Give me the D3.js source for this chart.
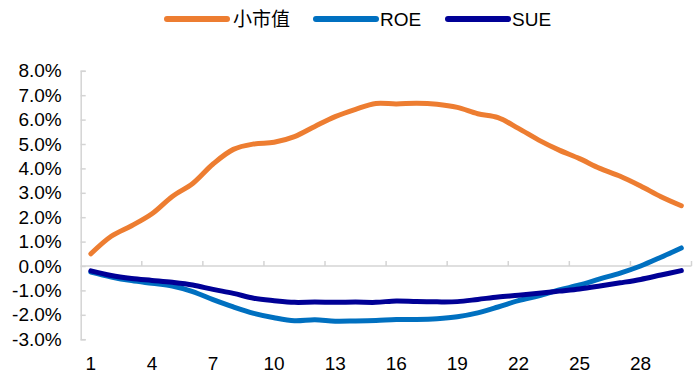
<!DOCTYPE html>
<html lang="zh">
<head>
<meta charset="UTF-8">
<title>小市值 / ROE / SUE</title>
<script src="https://d3js.org/d3.v7.min.js"></script>
<style>
    body { margin: 0; background: #fff; }
    svg { display: block; }
    .axis text { font-family: "Liberation Sans", Arial, sans-serif; font-size: 19px; fill: #000; }
    .legend text { font-size: 19px; fill: #000; }
</style>
</head>
<body>
<svg id="chart" width="699" height="384"></svg>
<script>
// Données (en %)
const categories = [1, 2, 3, 4, 5, 6, 7, 8, 9, 10, 11, 12, 13, 14, 15,
                    16, 17, 18, 19, 20, 21, 22, 23, 24, 25, 26, 27, 28, 29, 30];
const xTickLabels = [1, 4, 7, 10, 13, 16, 19, 22, 25, 28];
const yTicks = [-3, -2, -1, 0, 1, 2, 3, 4, 5, 6, 7, 8];
const seriesNames = ["小市值", "ROE", "SUE"];
const smallCap = [0.5, 1.22, 1.65, 2.14, 2.85, 3.38, 4.18, 4.78, 5.0, 5.07,
                  5.3, 5.72, 6.12, 6.42, 6.66, 6.64, 6.67, 6.63, 6.5, 6.24,
                  6.08, 5.64, 5.16, 4.75, 4.4, 4.0, 3.68, 3.28, 2.84, 2.47];
const roe = [-0.25, -0.45, -0.6, -0.71, -0.82, -1.05, -1.38, -1.68, -1.94, -2.12,
             -2.24, -2.2, -2.26, -2.25, -2.23, -2.19, -2.19, -2.16, -2.08, -1.92,
             -1.68, -1.42, -1.22, -0.98, -0.78, -0.53, -0.29, 0.0, 0.36, 0.74];
const sue = [-0.2, -0.39, -0.51, -0.59, -0.67, -0.78, -0.96, -1.12, -1.32, -1.42,
             -1.49, -1.48, -1.49, -1.48, -1.49, -1.43, -1.46, -1.47, -1.46, -1.37,
             -1.27, -1.2, -1.12, -1.03, -0.94, -0.82, -0.69, -0.55, -0.37, -0.19];
const colors = ["#ED7D31", "#0070C0", "#000096"];

const svg = d3.select("#chart");
const plotLeft = 80.7, plotRight = 691.5, plotTop = 70.8, plotBottom = 339.2;

const x = d3.scaleBand().domain(categories).range([plotLeft, plotRight]);
const y = d3.scaleLinear().domain([-3, 8]).range([plotBottom, plotTop]);
const gridColor = "#d4d4d4";

// axe Y : étiquettes
svg.append("g")
    .attr("class", "axis")
    .attr("transform", `translate(${plotLeft},0)`)
    .call(d3.axisLeft(y).tickValues(yTicks).tickSize(0).tickPadding(19)
        .tickFormat(d => d.toFixed(1) + "%"))
    .call(g => g.select(".domain").remove());

// axe Y : ligne et graduations vers l'intérieur
svg.append("g")
    .attr("transform", `translate(${plotLeft},0)`)
    .call(d3.axisRight(y).tickValues(yTicks).tickSize(5).tickFormat(""))
    .call(g => g.select(".domain").attr("stroke", gridColor).attr("stroke-width", 1.5))
    .call(g => g.selectAll(".tick line").attr("stroke", gridColor).attr("stroke-width", 1.5));

// ligne du zéro
svg.append("line")
    .attr("x1", plotLeft).attr("x2", plotRight)
    .attr("y1", y(0)).attr("y2", y(0))
    .attr("stroke", gridColor).attr("stroke-width", 1.5);

// graduations X (toutes les 3 catégories), vers le haut
const tickPos = xTickLabels.slice(1).map(c => x(c)).concat([plotRight]);
svg.selectAll(".xtick")
    .data(tickPos)
    .enter()
    .append("line")
    .attr("x1", d => d).attr("x2", d => d)
    .attr("y1", y(0)).attr("y2", y(0) - 5)
    .attr("stroke", gridColor).attr("stroke-width", 1.5);

// étiquettes X
svg.append("g")
    .attr("class", "axis")
    .attr("transform", `translate(0,${plotBottom + 17})`)
    .call(d3.axisBottom(x).tickValues(xTickLabels).tickSize(0).tickPadding(0))
    .call(g => g.select(".domain").remove())
    .call(g => g.selectAll("text").attr("dy", "0.71em"));

// courbes
const line = d3.line()
    .x((d, i) => x(categories[i]) + x.bandwidth() / 2)
    .y(d => y(d))
    .curve(d3.curveCatmullRom.alpha(0.5));

[smallCap, roe, sue].forEach((values, i) => {
    svg.append("path")
        .datum(values)
        .attr("fill", "none")
        .attr("stroke", colors[i])
        .attr("stroke-width", 5)
        .attr("stroke-linecap", "round")
        .attr("stroke-linejoin", "round")
        .attr("d", line);
});

// légende
const legendX = [167, 316, 448];
const legend = svg.append("g").attr("class", "legend");
seriesNames.forEach((name, i) => {
    legend.append("line")
        .attr("x1", legendX[i]).attr("x2", legendX[i] + 60)
        .attr("y1", 19).attr("y2", 19)
        .attr("stroke", colors[i])
        .attr("stroke-width", 6)
        .attr("stroke-linecap", "round");
    legend.append("text")
        .attr("x", legendX[i] + (i === 0 ? 66 : 64))
        .attr("y", 26)
        .attr("font-family", i === 0 ? "'Noto Sans CJK SC', sans-serif" : "'Liberation Sans', Arial, sans-serif")
        .text(name);
});
</script>
</body>
</html>
